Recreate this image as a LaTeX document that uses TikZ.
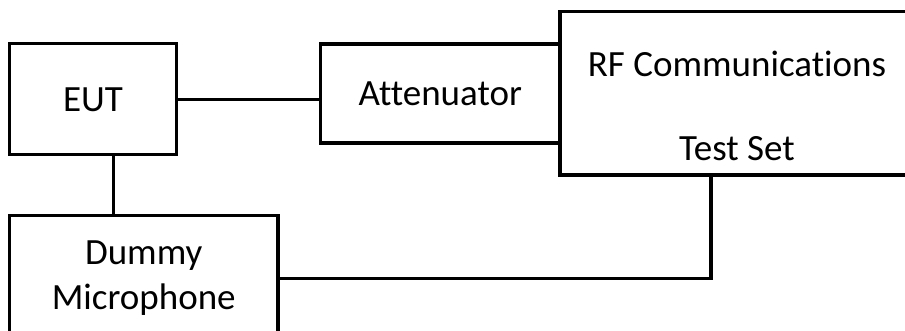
\documentclass[tikz,border=0pt]{standalone}
\usepackage{fontspec}
\setmainfont[Ligatures=NoCommon]{Carlito}
\begin{document}
\begin{tikzpicture}[x=1pt, y=-1pt, line width=3.3pt,
        block/.style={draw, inner sep=0pt, align=center, font=\fontsize{37}{45}\selectfont},
        txt/.style={anchor=base, inner sep=0pt, font=\fontsize{37}{45}\selectfont}]
        \useasboundingbox (0,0) rectangle (905,331);
        \clip (0,0) rectangle (905,331);
        \node[block, minimum width=167pt, minimum height=111pt] (eut) at (93,99.3) {EUT};
        \node[block, minimum width=239.5pt, minimum height=99pt] (att) at (440.25,93.5) {Attenuator};
        \node[block, minimum width=354pt, minimum height=163.5pt] (rf) at (737,93.25) {};
        \node[txt] (rfname) at (737,77) {RF Communications};
        \node[txt] (rfset) at (737,161) {Test Set};
        \node[block, minimum width=268.5pt, minimum height=125pt] (dummy) at (143.75,278) {Dummy\\Microphone};
        \coordinate (micline) at (113.3,0);
        \coordinate (setline) at (711,278.3);
        \draw (eut.east) -- (eut.east -| att.west);
        \draw (eut.south -| micline) -- (dummy.north -| micline);
        \draw (dummy.east |- setline) -| (rf.south -| setline);
    \end{tikzpicture}
\end{document}
